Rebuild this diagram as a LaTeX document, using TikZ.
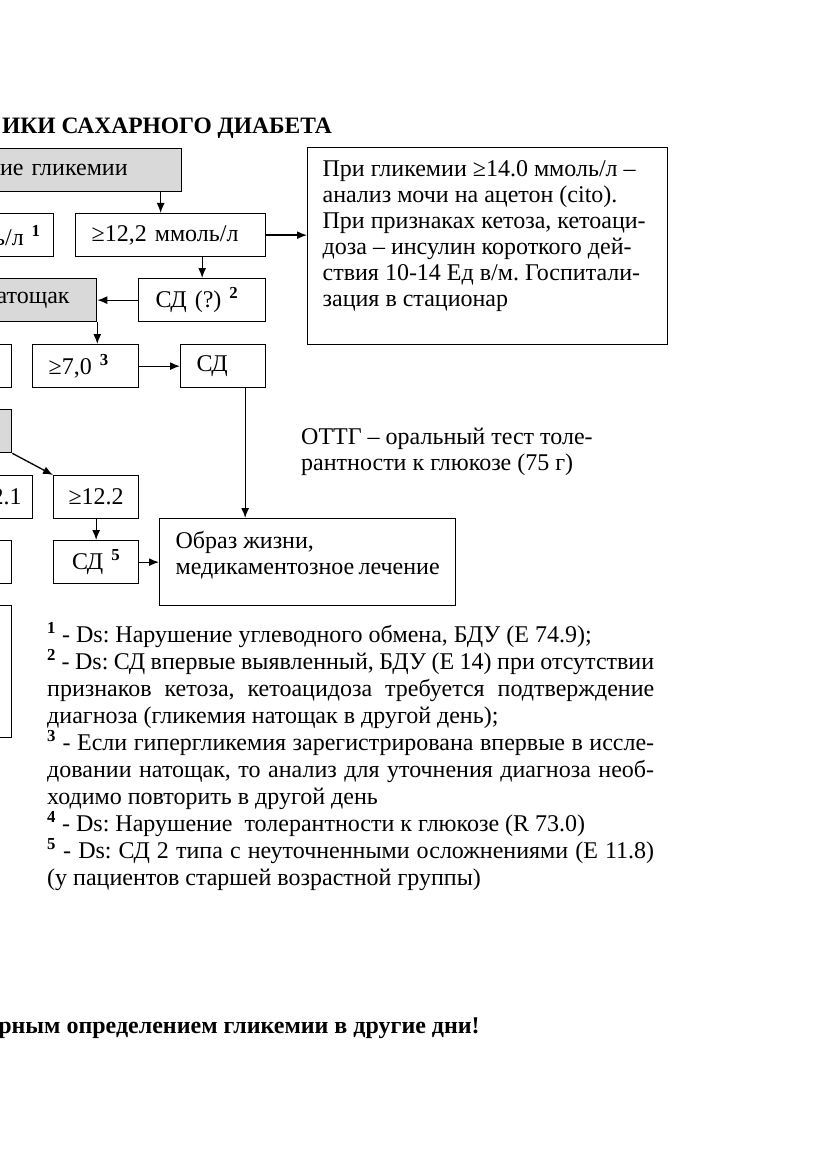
\documentclass[tikz,border=0pt]{standalone}
\usepackage{fontspec}
\setmainfont{Liberation Serif}
\usetikzlibrary{arrows.meta}
\definecolor{boxgrey}{RGB}{217,217,217}
\frenchspacing

\begin{document}
\begin{tikzpicture}[x=1pt, y=-1pt, font=\fontsize{24}{26}\selectfont,
  box/.style={draw, line width=1.3pt, anchor=north west, inner ysep=0pt, minimum height=43pt},
  greybox/.style={box, fill=boxgrey},
  arr/.style={line width=1.3pt, -{Latex[length=10pt, width=8pt]}}]
  \path[use as bounding box] (0,0) rectangle (831,1174);
  \clip (0,0) rectangle (831,1174);

  % heading (cut at the left margin)
  \node[anchor=base east, inner sep=0pt, font=\bfseries\fontsize{23.5}{26}\selectfont] (title) at (332,134) {ИКИ САХАРНОГО ДИАБЕТА};

  % boxes cut at the left margin
  \node[greybox, minimum width=281pt, text width=173pt, inner xsep=54pt, align=right] (meas) at (-100,148) {ие гликемии};
  \node[box, minimum width=153pt, text width=127pt, inner xsep=13pt, align=right] (low) at (-100,213) {ь/л \textsuperscript{\textbf{1}}};
  \node[greybox, minimum width=196pt, text width=142pt, inner xsep=27pt, align=right] (fast) at (-100,278) {атощак};
  \node[box, minimum width=111pt] (lowfast) at (-100,344) {};
  \node[greybox, minimum width=111pt] (ottgbox) at (-100,409) {};
  \node[box, minimum width=132pt, text width=110pt, inner xsep=11pt, align=right] (mid) at (-100,475) {2.1};
  \node[box, minimum width=111pt] (ntg) at (-100,540) {};
  \node[box, minimum width=111pt, minimum height=132pt] (left) at (-100,605) {};

  % main boxes
  \node[box, text width=158pt, inner xsep=16pt, align=left] (high) at (75,213) {≥12,2 ммоль/л};
  \node[box, inner xsep=15pt, inner ysep=13pt] (info) at (307,147) {\parbox[t][171pt][t]{330pt}{\raggedright
    При гликемии ≥14.0 ммоль/л –\\
    анализ мочи на ацетон (cito).\\
    При признаках кетоза, кетоаци-\\
    доза – инсулин короткого дей-\\
    ствия 10-14 Ед в/м. Госпитали-\\
    зация в стационар}};
  \node[box, text width=93pt, inner xsep=17pt, align=left] (sdq) at (138,278) {СД (?) \textsuperscript{\textbf{2}}};
  \node[box, text width=74pt, inner xsep=16pt, align=left] (ge7) at (32,344) {≥7,0 \textsuperscript{\textbf{3}}};
  \node[box, text width=53pt, inner xsep=16pt, align=left] (sd) at (180,344) {СД};
  \node[box, text width=65pt, inner xsep=10pt, align=center] (ge122) at (53,475) {≥12.2};
  \node[box, text width=65pt, inner xsep=10pt, align=center] (sd5) at (53,540) {СД \textsuperscript{\textbf{5}}};
  \node[box, inner xsep=16pt, inner ysep=13pt] (life) at (159,518) {\parbox[t][61pt][t]{264pt}{Образ жизни,\\ медикаментозное лечение}};

  % connectors
  \draw[arr] ([xshift=-10pt]high.north |- meas.south) -- ([xshift=-10pt]high.north);
  \draw[arr] (high.east) -- (high.east -| info.west);
  \draw[arr] (sdq.north |- high.south) -- (sdq.north);
  \draw[arr] (sdq.west) -- (sdq.west -| fast.east);
  \draw[arr] (fast.south east) -- (fast.south east |- ge7.north);
  \draw[arr] (ge7.east) -- (ge7.east -| sd.west);
  \draw[arr] ([xshift=22pt]sd.south) -- ([xshift=22pt]sd.south |- life.north);
  \draw[arr] (ottgbox.south east) -- (ge122.north west);
  \draw[arr] (ge122.south) -- (sd5.north);
  \draw[arr] (sd5.east) -- (sd5.east -| life.west);

  % notes
  \node[anchor=north west, inner sep=0pt, align=left] (ottg) at (301,428) {ОТТГ – оральный тест толе-\\ рантности к глюкозе (75 г)};
  \node[anchor=north west, inner sep=0pt, text width=607pt, align=justify, font=\fontsize{24}{27}\selectfont] (notes) at (47,622) {%
    \textsuperscript{\textbf{1}} - Ds: Нарушение углеводного обмена, БДУ (Е 74.9);\\
    \textsuperscript{\textbf{2}} - Ds: СД впервые выявленный, БДУ (Е 14) при отсутствии\linebreak
    признаков кетоза, кетоацидоза требуется подтверждение\linebreak
    диагноза (гликемия натощак в другой день);\\
    \textsuperscript{\textbf{3}} - Если гипергликемия зарегистрирована впервые в иссле-\linebreak
    довании натощак, то анализ для уточнения диагноза необ-\linebreak
    ходимо повторить в другой день\\
    \textsuperscript{\textbf{4}} - Ds: Нарушение\ \ толерантности к глюкозе (R 73.0)\\
    \textsuperscript{\textbf{5}} - Ds: СД 2 типа с неуточненными осложнениями (Е 11.8)\linebreak
    (у пациентов старшей возрастной группы)};

  \node[anchor=base east, inner sep=0pt, font=\bfseries\fontsize{24}{26}\selectfont] (closing) at (480,1033) {рным определением гликемии в другие дни!};
\end{tikzpicture}
\end{document}
